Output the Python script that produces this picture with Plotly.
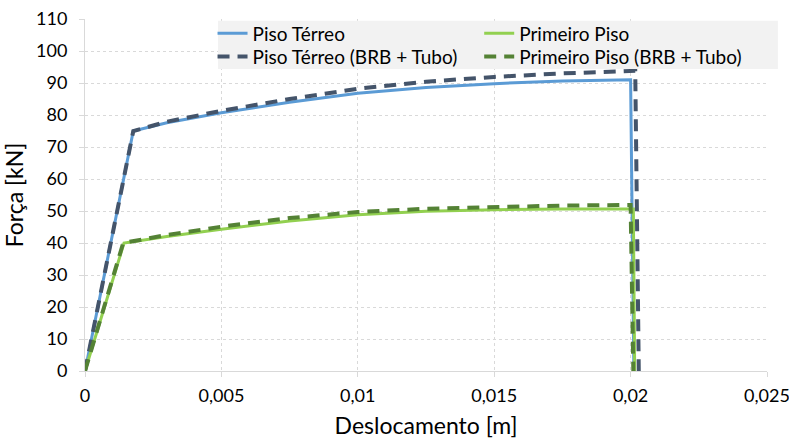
import plotly.graph_objects as go

# Piso Térreo
x_pt = [0, 0.00177, 0.003, 0.005, 0.0075, 0.010, 0.0125, 0.015, 0.0175, 0.0200, 0.02012]
y_pt = [0, 75.0, 77.6, 80.7, 84.0, 86.8, 88.6, 89.8, 90.6, 91.0, 0]
# Piso Térreo (BRB + Tubo)
x_ptb = [0, 0.00177, 0.003, 0.005, 0.0075, 0.010, 0.0125, 0.015, 0.0175, 0.02017, 0.0203]
y_ptb = [0, 75.0, 77.9, 81.3, 85.0, 88.2, 90.4, 91.9, 93.0, 93.8, 0]
# Primeiro Piso
x_pp = [0, 0.00143, 0.003, 0.005, 0.0075, 0.010, 0.0125, 0.015, 0.0175, 0.02010, 0.02015]
y_pp = [0, 40.0, 42.0, 44.3, 46.9, 48.8, 49.9, 50.4, 50.6, 50.6, 0]
# Primeiro Piso (BRB + Tubo)
x_ppb = [0, 0.0014, 0.003, 0.005, 0.0075, 0.010, 0.0125, 0.015, 0.0175, 0.0200, 0.0201]
y_ppb = [0, 40.0, 42.5, 45.1, 47.8, 49.7, 50.7, 51.3, 51.7, 51.9, 0]

names = ["Piso Térreo", "Primeiro Piso", "Piso Térreo (BRB + Tubo)", "Primeiro Piso (BRB + Tubo)"]
FONT = "Lato"

fig = go.Figure()
fig.add_trace(go.Scatter(x=x_pt, y=y_pt, mode="lines", name=names[0], legend="legend",
                         line=dict(color="#5B9BD5", width=3)))
fig.add_trace(go.Scatter(x=x_pp, y=y_pp, mode="lines", name=names[1], legend="legend2",
                         line=dict(color="#92D050", width=3)))
fig.add_trace(go.Scatter(x=x_ptb, y=y_ptb, mode="lines", name=names[2], legend="legend3",
                         line=dict(color="#44546A", width=4, dash="12px,8px")))
fig.add_trace(go.Scatter(x=x_ppb, y=y_ppb, mode="lines", name=names[3], legend="legend4",
                         line=dict(color="#548235", width=4, dash="12px,8px")))

leg_common = dict(orientation="v", xanchor="left", yanchor="middle",
                  bgcolor="rgba(0,0,0,0)", borderwidth=0,
                  font=dict(family=FONT, size=19, color="#000000"),
                  itemwidth=30, xref="paper", yref="paper")

col1, col2 = 0.187, 0.578
row1, row2 = 0.959, 0.893

fig.update_layout(
    width=789, height=439,
    margin=dict(l=85, r=22, t=19, b=68),
    paper_bgcolor="white", plot_bgcolor="white",
    separators=",.",
    font=dict(family=FONT, size=18, color="#000000"),
    showlegend=True,
    legend=dict(x=col1, y=row1, **leg_common),
    legend2=dict(x=col2, y=row1, **leg_common),
    legend3=dict(x=col1, y=row2, **leg_common),
    legend4=dict(x=col2, y=row2, **leg_common),
    shapes=[dict(type="rect", xref="paper", yref="paper", x0=0.195, x1=1.016, y0=0.858, y1=0.995,
                 fillcolor="#F2F2F2", line=dict(width=0), layer="above")],
    xaxis=dict(range=[0, 0.025], dtick=0.005, tick0=0, automargin=False,
               showgrid=True, gridcolor="#D9D9D9", griddash="dot", gridwidth=1,
               zeroline=False, showline=True, linecolor="#D9D9D9", linewidth=1,
               ticks="outside", ticklen=5, tickcolor="#D9D9D9", ticklabelstandoff=3,
               ticklabeloverflow="allow",
               tickfont=dict(family=FONT, size=18, color="#000000"),
               title=dict(text="Deslocamento [m]", font=dict(family=FONT, size=23, color="#000000"),
                          standoff=16)),
    yaxis=dict(range=[0, 110], dtick=10, tick0=0, automargin=False,
               showgrid=True, gridcolor="#D9D9D9", griddash="dot", gridwidth=1,
               zeroline=False, showline=True, linecolor="#D9D9D9", linewidth=1,
               ticks="outside", ticklen=5, tickcolor="#D9D9D9", ticklabelstandoff=8,
               ticklabeloverflow="allow",
               tickfont=dict(family=FONT, size=18, color="#000000"),
               title=dict(text="Força [kN]", font=dict(family=FONT, size=23, color="#000000"),
                          standoff=8)),
)

fig.write_html("out.html")
